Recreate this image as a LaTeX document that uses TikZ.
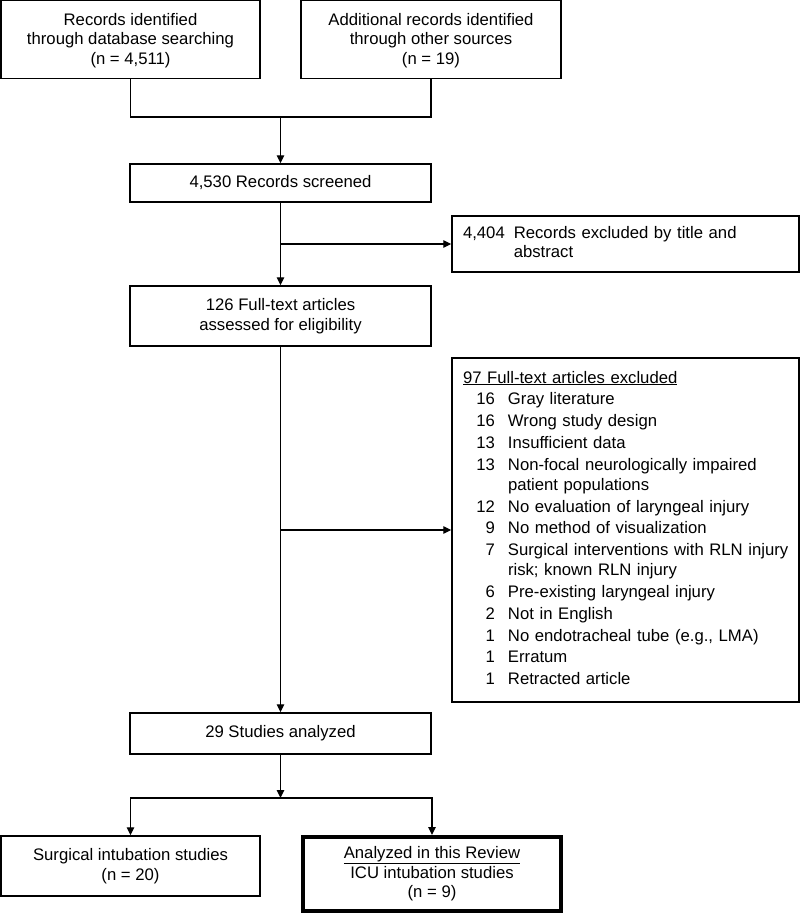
\documentclass[tikz,border=0pt]{standalone}
\usepackage{fontspec}
\setmainfont{Liberation Sans}
\usetikzlibrary{arrows.meta}
\tikzset{
  box/.style={draw, line width=1.4pt, inner sep=0pt, align=center,
    font=\fontsize{16.7}{19.5}\selectfont},
  thickbox/.style={box, line width=4pt},
  conn/.style={line width=1.3pt},
  arr/.style={conn, -{Triangle[length=8pt,width=7.5pt]}}
}
\begin{document}
\begin{tikzpicture}[x=1pt,y=-1pt]
\useasboundingbox (0,0) rectangle (800,917);
\node[box, minimum width=259pt, minimum height=78pt] (rec1) at (130.5,39.5)
  {\strut Records identified\\through database searching\\(n = 4,511)};
\node[box, minimum width=260pt, minimum height=78pt] (rec2) at (431,39.5)
  {\strut Additional records identified\\through other sources\\(n = 19)};
\node[box, minimum width=301pt, minimum height=38pt] (scr) at (280.5,183)
  {4,530 Records screened};
\node[box, minimum width=347pt, minimum height=56pt, text width=325pt, align=left] (exc1) at (625.5,244)
  {\begin{tabular}{@{}l@{\hspace{9pt}}l@{}}4,404 & Records excluded by title and\\ & abstract\end{tabular}};
\node[box, minimum width=301pt, minimum height=60pt] (ft) at (280.5,316)
  {126 Full-text articles\\assessed for eligibility};
\node[box, minimum width=347pt, minimum height=344pt, text width=325pt, align=left] (exc2) at (625.5,530)
  {\begin{tabular}{@{}r@{\hspace{13pt}}l@{}}
  \multicolumn{2}{@{}l@{}}{\underline{97 Full-text articles excluded}}\\[2.4pt]
  \makebox[32pt][r]{16} & Gray literature\\[2.4pt]
  16 & Wrong study design\\[2.4pt]
  13 & Insufficient data\\[2.4pt]
  13 & Non-focal neurologically impaired\\
     & patient populations\\[2.4pt]
  12 & No evaluation of laryngeal injury\\[2.4pt]
  9 & No method of visualization\\[2.4pt]
  7 & Surgical interventions with RLN injury\\
    & risk; known RLN injury\\[2.4pt]
  6 & Pre-existing laryngeal injury\\[2.4pt]
  2 & Not in English\\[2.4pt]
  1 & No endotracheal tube (e.g., LMA)\\[2.4pt]
  1 & Erratum\\[2.4pt]
  1 & Retracted article
  \end{tabular}};
\node[box, minimum width=301pt, minimum height=41pt] (an) at (280.5,733.5)
  {29 Studies analyzed};
\node[box, minimum width=259pt, minimum height=60pt] (surg) at (130.5,866)
  {Surgical intubation studies\\(n = 20)};
\node[thickbox, minimum width=258pt, minimum height=74pt] (icu) at (432,874)
  {\underline{Analyzed in this Review}\\ICU intubation studies\\(n = 9)};
\coordinate (j1) at (280.5,117);
\coordinate (b1) at (280.5,244);
\coordinate (b2) at (280.5,530);
\coordinate (j2) at (280.5,798);
\draw[conn] (rec1.south) |- (j1) -| (rec2.south);
\draw[arr] (j1) -- (scr.north);
\draw[arr] (scr.south) -- (ft.north);
\draw[arr] (b1) -- (exc1.west);
\draw[arr] (ft.south) -- (an.north);
\draw[arr] (b2) -- (exc2.west);
\draw[arr] (an.south) -- (j2);
\draw[arr] (j2) -| (surg.north);
\draw[arr] (j2) -| (icu.north);
\end{tikzpicture}
\end{document}
